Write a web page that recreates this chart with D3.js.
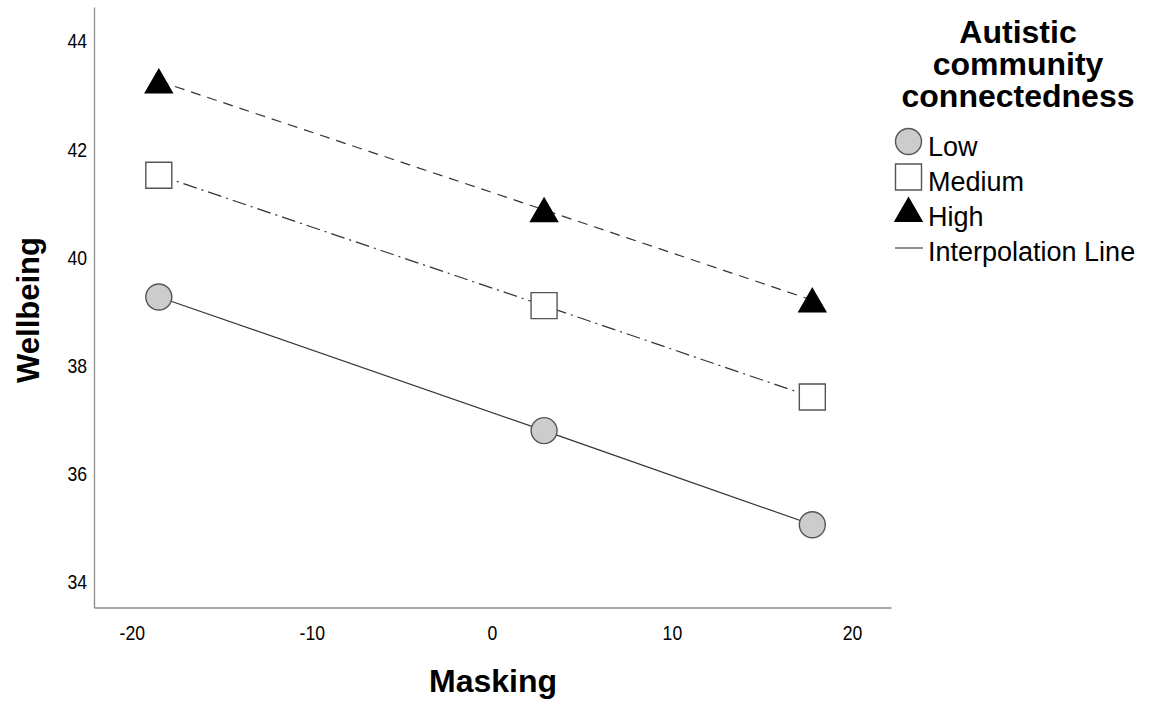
<!DOCTYPE html>
<html>
<head>
<meta charset="utf-8">
<script src="https://cdn.jsdelivr.net/npm/d3@7"></script>
<style>
  body { margin: 0; background: #fff; }
  text { font-family: "Liberation Sans", Arial, sans-serif; fill: #000; }
</style>
</head>
<body>
<div class="chart"></div>
<script>
// Wellbeing vs masking, by autistic community connectedness
const MASKING = [-18.5, 2.9, 17.8]
const GROUPS = ['Low', 'Medium', 'High']
const LOW = [39.27, 36.80, 35.06]
const MEDIUM = [41.52, 39.11, 37.42]
const HIGH = [43.26, 40.88, 39.21]
const X_TICKS = [-20, -10, 0, 10, 20]
const Y_TICKS = [34, 36, 38, 40, 42, 44]
const LEGEND_TITLE = ['Autistic', 'community', 'connectedness']
const LEGEND_LABELS = ['Low', 'Medium', 'High', 'Interpolation Line']

var svgWidth = 1155
var svgHeight = 701

var svg = d3.select('.chart')
    .append('svg')
    .attr('width', svgWidth)
    .attr('height', svgHeight)

var xScale = d3.scaleLinear()
    .domain([-22.1, 22.17])
    .range([94, 891])

var yScale = d3.scaleLinear()
    .domain([33.53, 44.63])
    .range([607.5, 7])

// axes, no tick marks, plain hyphen for negatives
var xAxis = svg.append('g')
    .attr('transform', `translate(0, ${yScale.range()[0]})`)
    .call(d3.axisBottom(xScale).tickValues(X_TICKS).tickFormat(d => String(d))
        .tickSize(0).tickPadding(18).tickSizeOuter(0))
var yAxis = svg.append('g')
    .attr('transform', `translate(${xScale.range()[0]}, 0)`)
    .call(d3.axisLeft(yScale).tickValues(Y_TICKS).tickFormat(d => String(d))
        .tickSize(0).tickPadding(0).tickSizeOuter(0))

svg.selectAll('.domain').attr('stroke', '#8c8c8c').attr('stroke-width', 1.3)
// tick labels in the reference are tall and a bit narrow
xAxis.attr('font-size', 21).attr('font-family', '"Liberation Sans", Arial, sans-serif')
yAxis.attr('font-size', 21).attr('font-family', '"Liberation Sans", Arial, sans-serif')
svg.selectAll('.tick text').style('fill', '#000')
yAxis.selectAll('.tick text').attr('x', 0).attr('transform', 'translate(-7, 0) scale(0.84, 1)')
xAxis.selectAll('.tick text').attr('transform', 'scale(0.84, 1)')

// axis titles
svg.append('text')
    .attr('x', 493)
    .attr('y', 692)
    .attr('text-anchor', 'middle')
    .attr('font-size', '32px')
    .attr('font-weight', 'bold')
    .text('Masking')

svg.append('text')
    .attr('transform', `translate(39, 310) rotate(-90)`)
    .attr('text-anchor', 'middle')
    .attr('font-size', '31px')
    .attr('font-weight', 'bold')
    .text('Wellbeing')

// marker shapes centred on 0,0
function shapePath(kind, s) {
    if (kind == 'Low') {
        var p = d3.path(); p.arc(0, 0, s / 2, 0, 2 * Math.PI); return p.toString()
    }
    if (kind == 'Medium') return `M${-s/2},${-s/2}H${s/2}V${s/2}H${-s/2}Z`
    var w = s * 1.04, h = s * 0.9
    return `M0,${-h/2}L${w/2},${h/2}L${-w/2},${h/2}Z`
}

const STYLE = {
    Low: { fill: '#cccccc', stroke: '#555', dash: null },
    Medium: { fill: '#ffffff', stroke: '#555', dash: '14,5,2,5' },
    High: { fill: '#000000', stroke: '#000', dash: '10,7' },
}

var series = [
    { name: 'Low', values: LOW },
    { name: 'Medium', values: MEDIUM },
    { name: 'High', values: HIGH },
]

var line = d3.line()
    .x((d, i) => xScale(MASKING[i]))
    .y(d => yScale(d))

var plot = svg.append('g')

plot.selectAll('.iline')
    .data(series)
    .enter()
    .append('path')
    .classed('iline', true)
    .attr('d', d => line(d.values))
    .attr('fill', 'none')
    .attr('stroke', '#333')
    .attr('stroke-width', 1.2)
    .attr('stroke-dasharray', d => STYLE[d.name].dash)

series.forEach(s => {
    plot.selectAll(null)
        .data(s.values)
        .enter()
        .append('path')
        .attr('transform', (d, i) => `translate(${xScale(MASKING[i])}, ${yScale(d)})`)
        .attr('d', shapePath(s.name, 26))
        .attr('fill', STYLE[s.name].fill)
        .attr('stroke', STYLE[s.name].stroke)
        .attr('stroke-width', 1.4)
})

// legend
var legend = svg.append('g')

legend.selectAll('.ltitle')
    .data(LEGEND_TITLE)
    .enter()
    .append('text')
    .attr('x', 1018)
    .attr('y', (d, i) => 43 + i * 32)
    .attr('text-anchor', 'middle')
    .attr('font-size', '32px')
    .attr('font-weight', 'bold')
    .text(d => d)

var itemY = [141.5, 177, 209.5, 248]
var labelY = [156, 191, 226, 261]

GROUPS.forEach((g, i) => {
    legend.append('path')
        .attr('transform', `translate(908.5, ${itemY[i]})`)
        .attr('d', shapePath(g, 26))
        .attr('fill', STYLE[g].fill)
        .attr('stroke', STYLE[g].stroke)
        .attr('stroke-width', 1.4)
})
legend.append('line')
    .attr('x1', 895).attr('x2', 923)
    .attr('y1', itemY[3]).attr('y2', itemY[3])
    .attr('stroke', '#444')
    .attr('stroke-width', 1.2)

legend.selectAll('.llabel')
    .data(LEGEND_LABELS)
    .enter()
    .append('text')
    .attr('x', 928)
    .attr('y', (d, i) => labelY[i])
    .attr('font-size', '27px')
    .text(d => d)
</script>
</body>
</html>
